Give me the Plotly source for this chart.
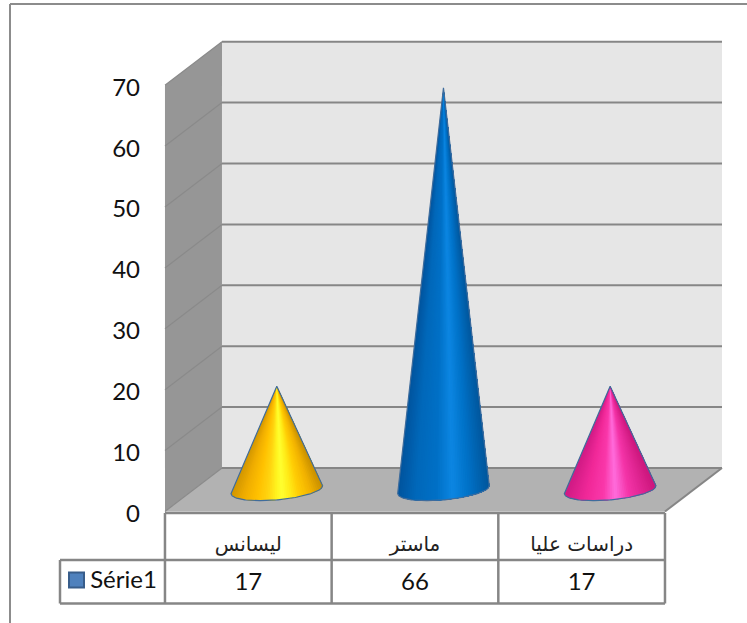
import math
import plotly.graph_objects as go

# Chart data
categories = ["ليسانس", "ماستر", "دراسات عليا"]
values = [17, 66, 17]
series_name = "Série1"
value_ticks = [0, 10, 20, 30, 40, 50, 60, 70]

# Shading across each cone, from left edge (-1) to right edge (+1)
cone_shades = [
    [(-1.0, "#D29600"), (-0.75, "#EEAC00"), (-0.45, "#FFC000"), (-0.2, "#FFD410"),
     (0.0, "#FFF420"), (0.12, "#FFFF30"), (0.3, "#FFEC18"), (0.5, "#FFCC04"),
     (0.75, "#F2B200"), (1.0, "#C89000")],
    [(-1.0, "#00549E"), (-0.6, "#0068BA"), (-0.15, "#0070C6"), (0.2, "#0C86E2"),
     (0.55, "#0072C8"), (1.0, "#00569C")],
    [(-1.0, "#D01A84"), (-0.55, "#F02898"), (-0.15, "#FA38AA"), (0.12, "#FF6CDC"),
     (0.42, "#F434A8"), (1.0, "#CC167C")],
]

# Axis scale: pixels per category and per value unit, and where the origin falls
W, H = 747, 623
PX_PER_CAT = 166.67
PX_PER_VAL = 6.09
ORIGIN_X, ORIGIN_Y = 248.3, 511.5

# Oblique depth of the 3D box, in axis units
DEPTH_X = 57 / PX_PER_CAT
DEPTH_Y = 43.5 / PX_PER_VAL
LEFT, RIGHT = -0.5, 2.5
TOP = value_ticks[-1]

# Tick labels sit slightly below the level they name
LABEL_DROP = 2 / PX_PER_VAL

# Cone footprint
CONE_A = 45.8 / PX_PER_CAT
CONE_B = 10.2 / PX_PER_VAL
CONE_TILT = 4.0 / PX_PER_VAL

GRID = "#868686"
STRIPS = 48

fig = go.Figure()


def poly(xs, ys, fill, line=None, width=0):
    fig.add_trace(go.Scatter(
        x=xs, y=ys, mode="lines", fill="toself", fillcolor=fill,
        line=dict(color=line or fill, width=width), hoverinfo="skip", showlegend=False,
    ))


def segment(xs, ys, color=GRID, width=2):
    fig.add_trace(go.Scatter(
        x=xs, y=ys, mode="lines", line=dict(color=color, width=width),
        hoverinfo="skip", showlegend=False,
    ))


def blend(stops, u):
    for (u0, c0), (u1, c1) in zip(stops, stops[1:]):
        if u <= u1:
            k = (u - u0) / (u1 - u0)
            a = [int(c0[i:i + 2], 16) for i in (1, 3, 5)]
            b = [int(c1[i:i + 2], 16) for i in (1, 3, 5)]
            return "rgb({},{},{})".format(*[round(p + (q - p) * k) for p, q in zip(a, b)])
    return stops[-1][1]


def base_arc(cx, cy, u_from, steps=40):
    xs, ys = [], []
    for j in range(steps + 1):
        u = u_from + (1 - u_from) * j / steps
        xs.append(cx + CONE_A * u)
        ys.append(cy + CONE_TILT * u - CONE_B * math.sqrt(max(0.0, 1 - u * u)))
    return xs, ys


# Back wall, side wall and floor of the box
poly([LEFT + DEPTH_X, RIGHT + DEPTH_X, RIGHT + DEPTH_X, LEFT + DEPTH_X],
     [DEPTH_Y, DEPTH_Y, TOP + DEPTH_Y, TOP + DEPTH_Y], "#E6E6E6")
poly([LEFT, LEFT + DEPTH_X, LEFT + DEPTH_X, LEFT],
     [0, DEPTH_Y, TOP + DEPTH_Y, TOP], "#969696")
poly([LEFT, LEFT + DEPTH_X, RIGHT + DEPTH_X, RIGHT],
     [0, DEPTH_Y, DEPTH_Y, 0], "#B2B2B2")

# Gridlines wrap from the side wall across the back wall
for tick in value_ticks:
    segment([LEFT, LEFT + DEPTH_X], [tick, tick + DEPTH_Y], color="#8A8A8A", width=1.2)
    segment([LEFT + DEPTH_X, RIGHT + DEPTH_X], [tick + DEPTH_Y, tick + DEPTH_Y])
segment([RIGHT + DEPTH_X, RIGHT], [DEPTH_Y, 0])

# Cones: each strip runs from its shade position to the right edge, so the next one overlaps it
for i, (value, shades) in enumerate(zip(values, cone_shades)):
    cx = i + DEPTH_X / 2
    cy = DEPTH_Y / 2
    apex_y = cy + value
    for s in range(STRIPS):
        u = -1 + 2 * s / STRIPS
        ax, ay = base_arc(cx, cy, u)
        poly([cx] + ax + [cx], [apex_y] + ay + [apex_y], blend(shades, u + 1 / STRIPS))
    ax, ay = base_arc(cx, cy, -1, steps=80)
    segment([cx] + ax + [cx], [apex_y] + ay + [apex_y], color="#3F6C9C", width=1.2)

# Data table under the plot
ROW_TOP = (ORIGIN_Y - 513) / PX_PER_VAL
ROW_MID = (ORIGIN_Y - 560) / PX_PER_VAL
ROW_BOT = (ORIGIN_Y - 603.5) / PX_PER_VAL
KEY_LEFT = (60 - ORIGIN_X) / PX_PER_CAT
segment([LEFT, RIGHT], [ROW_TOP, ROW_TOP], width=2.5)
segment([KEY_LEFT, RIGHT], [ROW_MID, ROW_MID], width=2.5)
segment([KEY_LEFT, RIGHT], [ROW_BOT, ROW_BOT], width=2.5)
segment([KEY_LEFT, KEY_LEFT], [ROW_MID, ROW_BOT], width=2.5)
for edge in range(len(categories) + 1):
    segment([LEFT + edge, LEFT + edge], [ROW_TOP, ROW_BOT], width=2.5)

row_y = (ORIGIN_Y - 584) / PX_PER_VAL
fig.add_trace(go.Scatter(
    x=list(range(len(values))), y=[row_y] * len(values), text=[str(v) for v in values],
    mode="text", textposition="middle center",
    textfont=dict(family="Lato", size=24, color="#111111"),
    hoverinfo="skip", showlegend=False,
))

# Series key in the first table column
fig.add_trace(go.Scatter(
    x=[(76.5 - ORIGIN_X) / PX_PER_CAT], y=[(ORIGIN_Y - 580) / PX_PER_VAL], mode="markers",
    marker=dict(symbol="square", size=15, color="#4F81BD", line=dict(color="#385D8A", width=2)),
    hoverinfo="skip", showlegend=False,
))
fig.add_trace(go.Scatter(
    x=[(123.5 - ORIGIN_X) / PX_PER_CAT], y=[(ORIGIN_Y - 582) / PX_PER_VAL], text=[series_name],
    mode="text", textposition="middle center",
    textfont=dict(family="Lato", size=24, color="#111111"),
    hoverinfo="skip", showlegend=False,
))

# Outer chart frame: top and left edges only
fig.add_shape(type="line", xref="paper", yref="paper", x0=10 / W, x1=1, y0=1 - 4 / H, y1=1 - 4 / H,
              line=dict(color="#8C8C8C", width=2))
fig.add_shape(type="line", xref="paper", yref="paper", x0=10 / W, x1=10 / W, y0=0, y1=1 - 4 / H,
              line=dict(color="#8C8C8C", width=2))

fig.update_layout(
    width=W, height=H, margin=dict(l=0, r=0, t=0, b=0),
    paper_bgcolor="white", plot_bgcolor="white", showlegend=False,
    xaxis=dict(
        range=[-ORIGIN_X / PX_PER_CAT, (W - ORIGIN_X) / PX_PER_CAT],
        anchor="free", position=(H - 513) / H,
        tickmode="array", tickvals=list(range(len(categories))), ticktext=categories,
        tickfont=dict(family="DejaVu Sans", size=20, color="#222222"),
        ticklen=0, ticklabelstandoff=17, showgrid=False, zeroline=False, showline=False,
    ),
    yaxis=dict(
        range=[(ORIGIN_Y - H) / PX_PER_VAL, ORIGIN_Y / PX_PER_VAL],
        anchor="free", position=164 / W,
        tickmode="array", tickvals=[t - LABEL_DROP for t in value_ticks],
        ticktext=[str(t) for t in value_ticks],
        tickfont=dict(family="Lato", size=24, color="#111111"),
        ticklen=0, ticklabelstandoff=24, showgrid=False, zeroline=False, showline=False,
    ),
)

fig.write_html("out.html", config=dict(displayModeBar=False))
